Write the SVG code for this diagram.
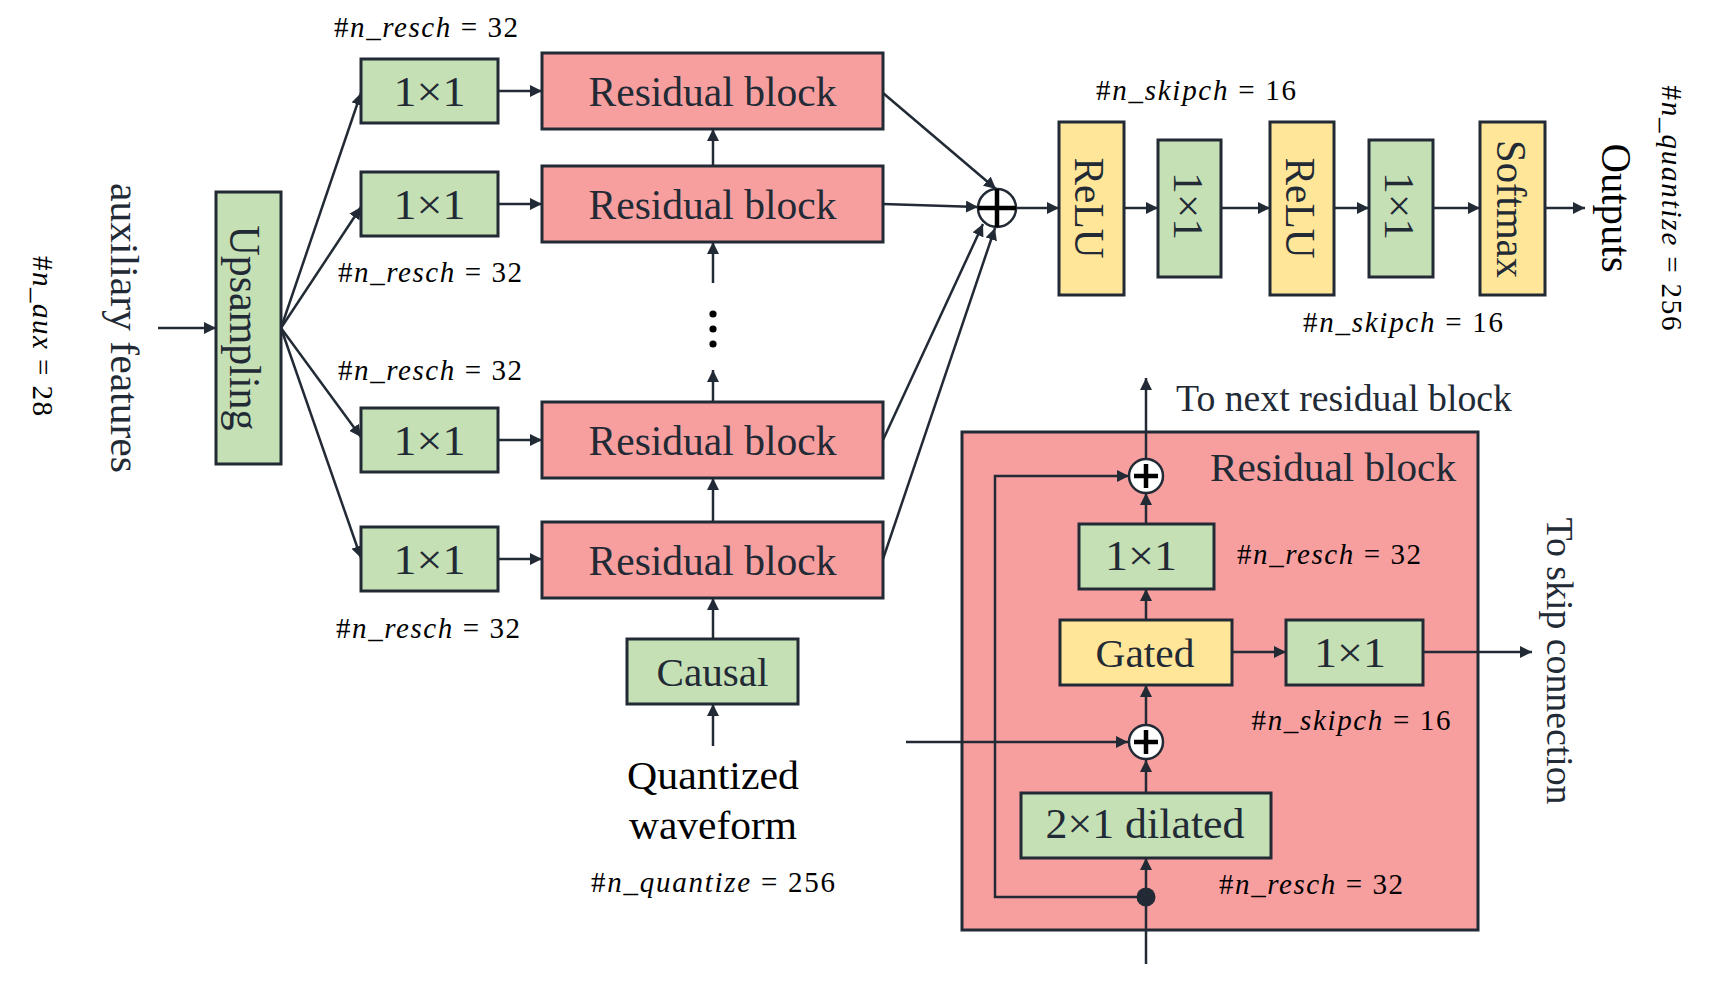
<svg xmlns="http://www.w3.org/2000/svg" width="1716" height="981" viewBox="0 0 1716 981">
<defs>
<marker id="a" viewBox="0 0 10 10" refX="10" refY="5" markerWidth="12" markerHeight="12" markerUnits="userSpaceOnUse" orient="auto">
<path d="M0,0 L10,5 L0,10 z" fill="#222A35"/>
</marker>
<style>
.g{fill:#C5E0B4;stroke:#222A35;stroke-width:3}
.r{fill:#F79F9F;stroke:#222A35;stroke-width:3}
.y{fill:#FFE699;stroke:#222A35;stroke-width:3}
.t{font-family:"Liberation Serif","Times New Roman",serif;fill:#222A35;text-anchor:middle}
.m{font-family:"Liberation Serif","Times New Roman",serif;font-size:29px;fill:#000;text-anchor:middle}
.i{font-style:italic}
.c{stroke:#222A35;stroke-width:2.5;fill:none;marker-end:url(#a)}
.l{stroke:#222A35;stroke-width:2.5;fill:none}
.pc{fill:#fff;stroke:#222A35;stroke-width:2.5}
.px{stroke:#000;stroke-width:4.5;fill:none}
</style>
</defs>
<rect width="1716" height="981" fill="#fff"/>

<g id="connectors">
<line class="c" x1="158" y1="328" x2="216" y2="328"/>
<line class="c" x1="281" y1="328" x2="361" y2="93"/>
<line class="c" x1="281" y1="328" x2="361" y2="207"/>
<line class="c" x1="281" y1="328" x2="361" y2="437"/>
<line class="c" x1="281" y1="328" x2="361" y2="558"/>
<line class="c" x1="498" y1="91" x2="542" y2="91"/>
<line class="c" x1="498" y1="204" x2="542" y2="204"/>
<line class="c" x1="498" y1="440" x2="542" y2="440"/>
<line class="c" x1="498" y1="559" x2="542" y2="559"/>
<line class="c" x1="713" y1="166" x2="713" y2="129"/>
<line class="c" x1="713" y1="283" x2="713" y2="242"/>
<line class="c" x1="713" y1="402" x2="713" y2="370"/>
<line class="c" x1="713" y1="522" x2="713" y2="478"/>
<line class="c" x1="713" y1="639" x2="713" y2="598"/>
<line class="c" x1="713" y1="746" x2="713" y2="704"/>
<line class="c" x1="883" y1="93" x2="996" y2="189"/>
<line class="c" x1="883" y1="204" x2="978" y2="207"/>
<line class="c" x1="883" y1="440" x2="983" y2="224"/>
<line class="c" x1="883" y1="559" x2="995" y2="228"/>
<line class="c" x1="1016" y1="208" x2="1059" y2="208"/>
<line class="c" x1="1124" y1="208" x2="1158" y2="208"/>
<line class="c" x1="1221" y1="208" x2="1270" y2="208"/>
<line class="c" x1="1334" y1="208" x2="1369" y2="208"/>
<line class="c" x1="1433" y1="208" x2="1480" y2="208"/>
<line class="c" x1="1545" y1="208" x2="1585" y2="208"/>
</g>

<g id="dots">
<circle cx="713" cy="314" r="3.6" fill="#000"/>
<circle cx="713" cy="329" r="3.6" fill="#000"/>
<circle cx="713" cy="344" r="3.6" fill="#000"/>
</g>

<g id="upsampling">
<rect class="g" x="216" y="192" width="65" height="272"/>
<text class="t" font-size="45" textLength="205" lengthAdjust="spacingAndGlyphs" transform="translate(230,328) rotate(90)">Upsampling</text>
</g>
<text id="aux-label" class="t" font-size="41" textLength="290" lengthAdjust="spacingAndGlyphs" transform="translate(111,328) rotate(90)">auxiliary features</text>
<text id="aux-n" class="m" textLength="160" transform="translate(33,336) rotate(90)">#<tspan class="i">n_aux</tspan> = 28</text>

<g id="conv1">
<rect class="g" x="361" y="59" width="137" height="64"/>
<text class="t" font-size="42" textLength="72" lengthAdjust="spacingAndGlyphs" x="429.5" y="106">1×1</text>
</g>
<g id="conv2">
<rect class="g" x="361" y="172" width="137" height="64"/>
<text class="t" font-size="42" textLength="72" lengthAdjust="spacingAndGlyphs" x="429.5" y="219">1×1</text>
</g>
<g id="conv3">
<rect class="g" x="361" y="408" width="137" height="64"/>
<text class="t" font-size="42" textLength="72" lengthAdjust="spacingAndGlyphs" x="429.5" y="455">1×1</text>
</g>
<g id="conv4">
<rect class="g" x="361" y="527" width="137" height="64"/>
<text class="t" font-size="42" textLength="72" lengthAdjust="spacingAndGlyphs" x="429.5" y="574">1×1</text>
</g>

<text class="m" x="426" y="37" textLength="184">#<tspan class="i">n_resch</tspan> = 32</text>
<text class="m" x="430" y="282" textLength="184">#<tspan class="i">n_resch</tspan> = 32</text>
<text class="m" x="430" y="380" textLength="184">#<tspan class="i">n_resch</tspan> = 32</text>
<text class="m" x="428" y="638" textLength="184">#<tspan class="i">n_resch</tspan> = 32</text>

<g id="res1">
<rect class="r" x="542" y="53" width="341" height="76"/>
<text class="t" font-size="43" textLength="248" lengthAdjust="spacingAndGlyphs" x="712.5" y="106">Residual block</text>
</g>
<g id="res2">
<rect class="r" x="542" y="166" width="341" height="76"/>
<text class="t" font-size="43" textLength="248" lengthAdjust="spacingAndGlyphs" x="712.5" y="219">Residual block</text>
</g>
<g id="res3">
<rect class="r" x="542" y="402" width="341" height="76"/>
<text class="t" font-size="43" textLength="248" lengthAdjust="spacingAndGlyphs" x="712.5" y="455">Residual block</text>
</g>
<g id="res4">
<rect class="r" x="542" y="522" width="341" height="76"/>
<text class="t" font-size="43" textLength="248" lengthAdjust="spacingAndGlyphs" x="712.5" y="575">Residual block</text>
</g>

<g id="causal">
<rect class="g" x="627" y="639" width="171" height="65"/>
<text class="t" font-size="41" textLength="112" lengthAdjust="spacingAndGlyphs" x="712.5" y="686">Causal</text>
</g>
<g id="input-wave">
<text class="t" font-size="41" fill="#000" style="fill:#000" textLength="172" lengthAdjust="spacingAndGlyphs" x="713" y="789">Quantized</text>
<text class="t" font-size="41" style="fill:#000" textLength="168" lengthAdjust="spacingAndGlyphs" x="713" y="839">waveform</text>
<text class="m" x="713" y="892" textLength="244">#<tspan class="i">n_quantize</tspan> = 256</text>
</g>

<g id="sum">
<circle class="pc" cx="997" cy="208" r="19"/>
<path class="px" d="M978,208 H1016 M997,189 V227"/>
</g>

<text class="m" x="1196" y="100" textLength="200">#<tspan class="i">n_skipch</tspan> = 16</text>
<text class="m" x="1403" y="332" textLength="200">#<tspan class="i">n_skipch</tspan> = 16</text>

<g id="relu1">
<rect class="y" x="1059" y="122" width="65" height="173"/>
<text class="t" font-size="42" textLength="101" lengthAdjust="spacingAndGlyphs" transform="translate(1075,208) rotate(90)">ReLU</text>
</g>
<g id="post1">
<rect class="g" x="1158" y="140" width="63" height="137"/>
<text class="t" font-size="42" textLength="68" lengthAdjust="spacingAndGlyphs" transform="translate(1174,206) rotate(90)">1×1</text>
</g>
<g id="relu2">
<rect class="y" x="1270" y="122" width="64" height="173"/>
<text class="t" font-size="42" textLength="101" lengthAdjust="spacingAndGlyphs" transform="translate(1286,208) rotate(90)">ReLU</text>
</g>
<g id="post2">
<rect class="g" x="1369" y="140" width="64" height="137"/>
<text class="t" font-size="42" textLength="68" lengthAdjust="spacingAndGlyphs" transform="translate(1385,206) rotate(90)">1×1</text>
</g>
<g id="softmax">
<rect class="y" x="1480" y="122" width="65" height="173"/>
<text class="t" font-size="42" textLength="138" lengthAdjust="spacingAndGlyphs" transform="translate(1497,209) rotate(90)">Softmax</text>
</g>
<text id="outputs" class="t" font-size="42" style="fill:#000" textLength="129" lengthAdjust="spacingAndGlyphs" transform="translate(1602,208) rotate(90)">Outputs</text>
<text id="quantize-out" class="m" textLength="245" transform="translate(1662,208) rotate(90)">#<tspan class="i">n_quantize</tspan> = 256</text>

<g id="detail">
<rect class="r" x="962" y="432" width="516" height="498"/>
<text class="t" font-size="41" textLength="246" lengthAdjust="spacingAndGlyphs" x="1333" y="481">Residual block</text>
<g id="detail-connectors">
<line class="l" x1="1146" y1="964" x2="1146" y2="897"/>
<line class="c" x1="1146" y1="897" x2="1146" y2="858"/>
<line class="c" x1="1146" y1="793" x2="1146" y2="760"/>
<line class="c" x1="1146" y1="724" x2="1146" y2="685"/>
<line class="c" x1="1146" y1="620" x2="1146" y2="589"/>
<line class="c" x1="1146" y1="524" x2="1146" y2="493"/>
<line class="c" x1="1146" y1="459" x2="1146" y2="378"/>
<path class="c" d="M1146,897 H995 V476 H1129"/>
<line class="c" x1="906" y1="742" x2="1128" y2="742"/>
<line class="c" x1="1232" y1="652" x2="1286" y2="652"/>
<line class="c" x1="1423" y1="652" x2="1532" y2="652"/>
<circle cx="1146" cy="897" r="9.5" fill="#222A35"/>
</g>
<g id="add-top">
<circle class="pc" cx="1146" cy="476" r="17"/>
<path class="px" d="M1134,476 H1158 M1146,464 V488"/>
</g>
<g id="add-bottom">
<circle class="pc" cx="1146" cy="742" r="17"/>
<path class="px" d="M1134,742 H1158 M1146,730 V754"/>
</g>
<g id="res-1x1">
<rect class="g" x="1079" y="524" width="135" height="65"/>
<text class="t" font-size="42" textLength="72" lengthAdjust="spacingAndGlyphs" x="1141" y="570">1×1</text>
</g>
<g id="gated">
<rect class="y" x="1060" y="620" width="172" height="65"/>
<text class="t" font-size="41" textLength="99" lengthAdjust="spacingAndGlyphs" x="1145" y="667">Gated</text>
</g>
<g id="skip-1x1">
<rect class="g" x="1286" y="620" width="137" height="65"/>
<text class="t" font-size="42" textLength="72" lengthAdjust="spacingAndGlyphs" x="1350" y="667">1×1</text>
</g>
<g id="dilated">
<rect class="g" x="1021" y="793" width="250" height="65"/>
<text class="t" font-size="42" textLength="199" lengthAdjust="spacingAndGlyphs" x="1145" y="838">2×1 dilated</text>
</g>
<text class="m" x="1329" y="564" textLength="184">#<tspan class="i">n_resch</tspan> = 32</text>
<text class="m" x="1351" y="730" textLength="199">#<tspan class="i">n_skipch</tspan> = 16</text>
<text class="m" x="1311" y="894" textLength="184">#<tspan class="i">n_resch</tspan> = 32</text>
</g>
<text id="to-next" class="t" font-size="37" textLength="336" lengthAdjust="spacingAndGlyphs" style="text-anchor:start" x="1176" y="411">To next residual block</text>
<text id="to-skip" class="t" font-size="37" textLength="287" lengthAdjust="spacingAndGlyphs" transform="translate(1547,661) rotate(90)">To skip connection</text>
</svg>
